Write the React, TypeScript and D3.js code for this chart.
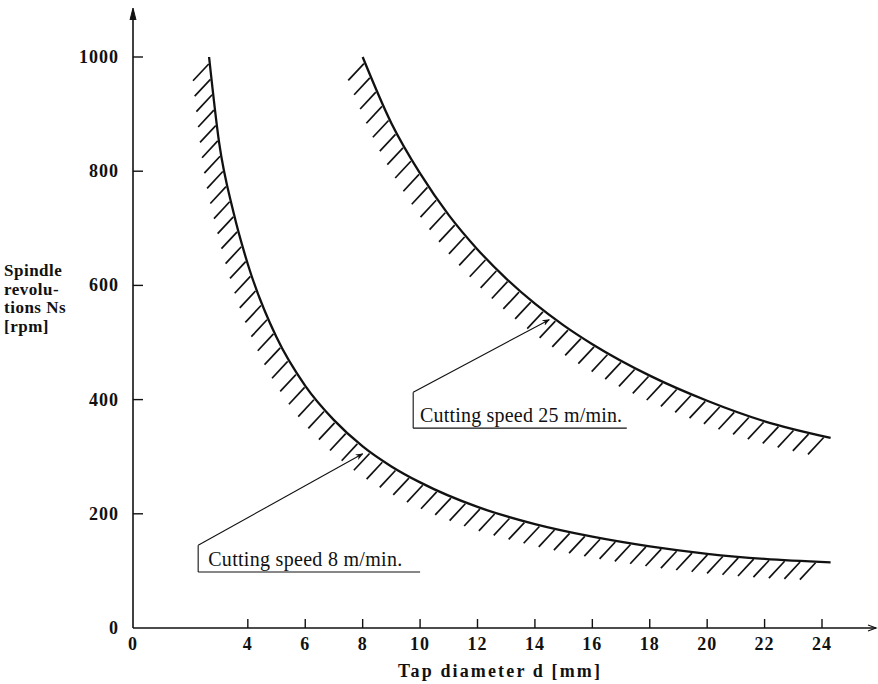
import React, { useEffect, useRef } from 'react';
import * as d3 from 'd3';

// ---- data ----
const xTicks = [0, 4, 6, 8, 10, 12, 14, 16, 18, 20, 22, 24];
const yTicks = [0, 200, 400, 600, 800, 1000];
const speed8D = [2.65, 3, 3.5, 4, 5, 6, 7, 8, 9, 10, 12, 14, 16, 18, 20, 22, 24.3];
const speed8N = [1000, 850, 728, 637, 509, 424, 364, 318, 283, 255, 212, 182, 160, 143, 130, 121, 115];
const speed25D = [8, 9, 10, 11, 12, 13, 14, 15, 16, 18, 20, 22, 24.3];
const speed25N = [1000, 884, 796, 723, 663, 612, 568, 530, 497, 442, 398, 362, 333];
const labels = ['Cutting speed 8 m/min.', 'Cutting speed 25 m/min.'];
const yTitle = ['Spindle', 'revolu-', 'tions Ns', '[rpm]'];
const xTitle = 'Tap diameter d [mm]';

// ---- layout ----
const W = 878, H = 684;
const x = d3.scaleLinear().domain([0, 24]).range([133, 822]);
const y = d3.scaleLinear().domain([0, 1000]).range([628, 57]);
const FONT = "'Liberation Serif', 'Times New Roman', serif";

// annotation anchors in data units: tip, elbow, bottom of vertical, underline end, text start/baseline
const annos = [
  { tip: [8.0, 305], elbow: [2.27, 145], bottom: 98, end: 10.0, tx: 2.62, ty: 108, w: 194 },
  { tip: [14.5, 540], elbow: [9.76, 413], bottom: 350, end: 17.2, tx: 10.0, ty: 360, w: 202 },
];

const line = d3.line<[number, number]>()
  .x(d => x(d[0]))
  .y(d => y(d[1]))
  .curve(d3.curveMonotoneX);

export default function App() {
  const ref1 = useRef<SVGPathElement>(null);
  const ref2 = useRef<SVGPathElement>(null);
  const hatchRef = useRef<SVGGElement>(null);

  useEffect(() => {
    const g = d3.select(hatchRef.current);
    g.selectAll('*').remove();
    const ang = (47 * Math.PI) / 180;
    [ref1.current, ref2.current].forEach((p) => {
      if (!p) return;
      const L = p.getTotalLength();
      const segs: [number, number, number, number][] = [];
      for (let s = 6; s < L - 2; s += 15.5) {
        const pt = p.getPointAtLength(s);
        const len = 23;
        segs.push([pt.x - 1, pt.y + 1, pt.x - 1 - len * Math.cos(ang), pt.y + 1 + len * Math.sin(ang)]);
      }
      g.selectAll(null)
        .data(segs)
        .enter()
        .append('line')
        .attr('x1', d => d[0]).attr('y1', d => d[1])
        .attr('x2', d => d[2]).attr('y2', d => d[3])
        .attr('stroke', '#111')
        .attr('stroke-width', 1.7);
    });
  }, []);

  const d8 = line(speed8D.map((d, i) => [d, speed8N[i]] as [number, number])) || '';
  const d25 = line(speed25D.map((d, i) => [d, speed25N[i]] as [number, number])) || '';

  return (
    <svg width={W} height={H} style={{ position: 'absolute', left: 0, top: 0, background: '#fff' }}
      fontFamily={FONT}>
      <defs>
        <marker id="ah" viewBox="0 0 10 10" refX="9" refY="5" markerWidth="7" markerHeight="7" orient="auto">
          <path d="M0,1 L10,5 L0,9 L3,5 Z" fill="#111" />
        </marker>
      </defs>
      {/* axes */}
      <line x1={x(0)} y1={y(0)} x2={x(0)} y2={10} stroke="#111" strokeWidth={1.6} />
      <path d={`M${x(0) - 3},20 L${x(0)},8 L${x(0) + 3},20`} fill="#111" stroke="#111" strokeWidth={1} />
      <line x1={x(0)} y1={y(0)} x2={876} y2={y(0)} stroke="#111" strokeWidth={1.6} />
      <path d={`M868,${y(0) - 3} L876,${y(0)} L868,${y(0) + 3}`} fill="none" stroke="#111" strokeWidth={1.2} />
      {yTicks.filter(t => t > 0).map(t => (
        <line key={'yt' + t} x1={x(0)} x2={x(0) + 10} y1={y(t)} y2={y(t)} stroke="#111" strokeWidth={1.4} />
      ))}
      {yTicks.map(t => (
        <text key={'yl' + t} x={119} y={y(t) + 6} textAnchor="end" fontSize={18} fontWeight="bold"
          letterSpacing={1} fill="#111">{t}</text>
      ))}
      {xTicks.filter(t => t > 0).map(t => (
        <line key={'xt' + t} x1={x(t)} x2={x(t)} y1={y(0)} y2={y(0) - 9} stroke="#111" strokeWidth={1.4} />
      ))}
      {xTicks.map(t => (
        <text key={'xl' + t} x={x(t)} y={650} textAnchor="middle" fontSize={18} fontWeight="bold"
          letterSpacing={1} fill="#111">{t}</text>
      ))}
      {/* axis titles */}
      {yTitle.map((s, i) => (
        <text key={'yt' + i} x={4} y={276 + i * 18.5} fontSize={17} fontWeight="bold" letterSpacing={0.5} fill="#111">{s}</text>
      ))}
      <text x={398} y={677} fontSize={18} fontWeight="bold" textLength={202} lengthAdjust="spacing" fill="#111">{xTitle}</text>

      {/* curves */}
      <path ref={ref1} d={d8} fill="none" stroke="#111" strokeWidth={2.3} />
      <path ref={ref2} d={d25} fill="none" stroke="#111" strokeWidth={2.3} />
      <g ref={hatchRef} />

      {/* annotations */}
      {annos.map((a, i) => (
        <g key={'an' + i}>
          <line x1={x(a.elbow[0])} y1={y(a.elbow[1])} x2={x(a.tip[0])} y2={y(a.tip[1])}
            stroke="#111" strokeWidth={1.1} markerEnd="url(#ah)" />
          <line x1={x(a.elbow[0])} y1={y(a.elbow[1])} x2={x(a.elbow[0])} y2={y(a.bottom)}
            stroke="#111" strokeWidth={1.1} />
          <line x1={x(a.elbow[0])} y1={y(a.bottom)} x2={x(a.end)} y2={y(a.bottom)}
            stroke="#111" strokeWidth={1.1} />
          <text x={x(a.tx)} y={y(a.ty)} fontSize={20} textLength={a.w} lengthAdjust="spacing" fill="#111">{labels[i]}</text>
        </g>
      ))}
    </svg>
  );
}
